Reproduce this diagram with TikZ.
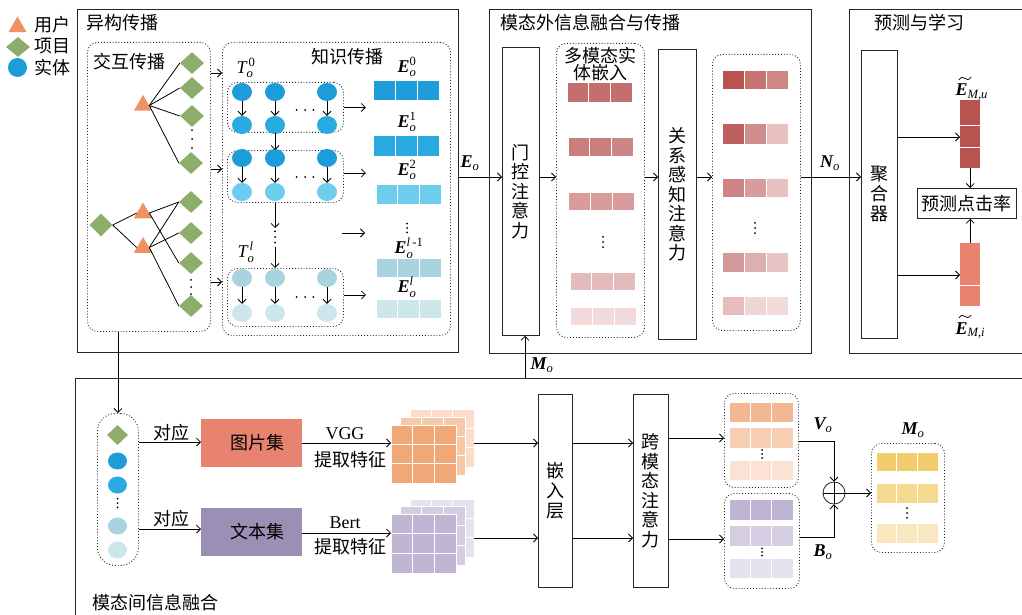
\documentclass[tikz,border=0pt]{standalone}
\usepackage{amsmath}
\usepackage{fontspec}
\setmainfont{Liberation Serif}
\newfontfamily\cjk{Noto Sans CJK SC}
\usetikzlibrary{shapes.geometric,arrows.meta,calc}

\definecolor{b0}{HTML}{1C9DD9}
\definecolor{b1}{HTML}{29ABE2}
\definecolor{b2}{HTML}{6CCDEF}
\definecolor{b3}{HTML}{A8D3DF}
\definecolor{b4}{HTML}{CDE6EC}
\definecolor{grn}{HTML}{8DAE6A}
\definecolor{org}{HTML}{F09161}
\definecolor{euc}{HTML}{B85450}
\definecolor{eic}{HTML}{E8836F}
\definecolor{imgc}{HTML}{E8836F}
\definecolor{txtc}{HTML}{9B8FB5}

\newcommand{\bE}{\text{\rmfamily\bfseries\itshape E}}
\newcommand{\bM}{\text{\rmfamily\bfseries\itshape M}}
\newcommand{\bN}{\text{\rmfamily\bfseries\itshape N}}
\newcommand{\bV}{\text{\rmfamily\bfseries\itshape V}}
\newcommand{\bB}{\text{\rmfamily\bfseries\itshape B}}
\newcommand{\tx}[1]{\text{\rmfamily\itshape #1}}
\newcommand{\tu}[1]{\text{\rmfamily #1}}

\newcommand{\rowbar}[8]{%
  \definecolor{rbA}{HTML}{#6}\definecolor{rbB}{HTML}{#7}\definecolor{rbC}{HTML}{#8}%
  \node[cellb, fill=rbA, minimum width={(#4-#2)/3}, minimum height={#5-#3}, anchor=north west] (#1-1) at (#2,#3) {};
  \node[cellb, fill=rbB, minimum width={(#4-#2)/3}, minimum height={#5-#3}, anchor=north west] (#1-2) at ({#2+(#4-#2)/3},#3) {};
  \node[cellb, fill=rbC, minimum width={(#4-#2)/3}, minimum height={#5-#3}, anchor=north west] (#1-3) at ({#2+2*(#4-#2)/3},#3) {};
}
\newcommand{\gridnode}[6]{%
  \definecolor{gdA}{HTML}{#6}%
  \node[cellb, fill=gdA, minimum width={#4-#2}, minimum height={#5-#3}, anchor=north west] (#1) at (#2,#3) {};
  \draw[white, line width=1pt] ($(#1.north west)!1/3!(#1.north east)$) -- ($(#1.south west)!1/3!(#1.south east)$);
  \draw[white, line width=1pt] ($(#1.north west)!2/3!(#1.north east)$) -- ($(#1.south west)!2/3!(#1.south east)$);
  \draw[white, line width=1pt] ($(#1.north west)!1/3!(#1.south west)$) -- ($(#1.north east)!1/3!(#1.south east)$);
  \draw[white, line width=1pt] ($(#1.north west)!2/3!(#1.south west)$) -- ($(#1.north east)!2/3!(#1.south east)$);
}

\tikzset{
  box/.style={draw=black!85, line width=0.8pt, inner sep=0pt, anchor=north west},
  dbox/.style={draw=black!85, dotted, line width=0.9pt, rounded corners=10pt, inner sep=0pt, anchor=north west},
  arr/.style={-{Straight Barb[length=4pt,width=8pt]}, line width=0.8pt},
  ln/.style={line width=0.8pt},
  tld/.style={line width=0.75pt},
  cellb/.style={draw=white, line width=1pt, inner sep=0pt, outer sep=0pt, rectangle},
  ent/.style={ellipse, minimum width=20pt, minimum height=18pt, inner sep=0pt},
  dia/.style={diamond, fill=grn, minimum width=24pt, minimum height=22pt, inner sep=0pt},
  tri/.style={regular polygon, regular polygon sides=3, fill=org, minimum size=21pt, inner sep=0pt},
  vtext/.style={align=center, font=\cjk\fontsize{18}{19.5}\selectfont},
  lat/.style={font=\rmfamily\fontsize{18}{20}\selectfont},
  vdt/.style={rectangle, inner sep=0pt, outer sep=0pt, minimum width=4pt, minimum height=#1,
    path picture={\foreach \f in {0.1,0.5,0.9}
      \fill ($(path picture bounding box.north)!\f!(path picture bounding box.south)$) circle[radius=1pt];}},
  vdt/.default=18pt,
  hdt/.style={rectangle, inner sep=0pt, outer sep=0pt, minimum height=4pt, minimum width=#1,
    path picture={\foreach \f in {0.08,0.5,0.92}
      \fill ($(path picture bounding box.west)!\f!(path picture bounding box.east)$) circle[radius=1pt];}},
  hdt/.default=20pt
}

\begin{document}
\begin{tikzpicture}[x=1pt,y=-1pt, font=\cjk\fontsize{18}{20}\selectfont]
\useasboundingbox (0,0) rectangle (1022,615);
\fill[white] (0,0) rectangle (1022,615);

% ---------- legend ----------
\node[tri] (lgT) at (17.5,27) {};
\node[anchor=west] (lgTt) at (31,25) {用户};
\node[dia, minimum width=24pt, minimum height=20pt] (lgD) at (18,47) {};
\node[anchor=west] (lgDt) at (31,46) {项目};
\node[ent, fill=b0, minimum width=19pt, minimum height=19pt] (lgC) at (17.5,67.5) {};
\node[anchor=west] (lgCt) at (31,68) {实体};

% ---------- outer boxes ----------
\node[box, minimum width=381pt, minimum height=343pt] (het) at (77,9) {};
\node[anchor=west] (hetT) at (83,23) {异构传播};
\node[box, minimum width=322pt, minimum height=344pt] (mid) at (489,9) {};
\node[anchor=west] (midT) at (497,23) {模态外信息融合与传播};
\node[box, minimum width=180pt, minimum height=344pt] (prd) at (849,9) {};
\node[anchor=west] (prdT) at (871,23) {预测与学习};
\node[box, minimum width=955pt, minimum height=245pt] (bot) at (75,378) {};
\node[anchor=west] (botT) at (89,603) {模态间信息融合};

% ---------- interaction propagation ----------
\node[dbox, minimum width=123pt, minimum height=289pt] (ia) at (87,42) {};
\node[anchor=west] (iaT) at (90,62) {交互传播};
\node[dia] (d1) at (192,63) {};
\node[dia] (d2) at (192,88) {};
\node[dia] (d3) at (192,116) {};
\node[vdt=22pt] (dd1) at (192,139) {};
\node[dia] (d4) at (191,163) {};
\node[dia] (d5) at (191,202) {};
\node[dia] (d6) at (191,233) {};
\node[dia] (d7) at (191,263) {};
\node[vdt=18pt] (dd2) at (191,287) {};
\node[dia] (d8) at (191,306) {};
\node[dia, minimum width=23pt, minimum height=23pt] (d0) at (101,225) {};
\node[tri] (t1) at (143,105.5) {};
\node[tri] (t2) at (143,213) {};
\node[tri] (t3) at (143,247.5) {};
\foreach \d in {d1,d2,d3,d4} \draw[ln] (t1.east) -- (\d.west);
\draw[ln] (d0.east) -- (t2.west);
\draw[ln] (d0.east) -- (t3.west);
\draw[ln] (t2.east) -- (d5.west);
\draw[ln] (t2.east) -- (d7.west);
\draw[ln] (t3.east) -- (d5.west);
\draw[ln] (t3.east) -- (d6.west);
\draw[ln] (t3.east) -- (d8.west);

% ---------- knowledge propagation ----------
\node[dbox, minimum width=228pt, minimum height=293pt] (ka) at (222,42) {};
\node (kaT) at (347,57) {知识传播};
\coordinate (ya1) at (0,73);
\coordinate (ya2) at (0,169);
\coordinate (ya3) at (0,282);
\foreach \c in {ya1,ya2,ya3} \draw[arr] (ia.east |- \c) -- (ka.west |- \c);

\node[dbox, minimum width=116pt, minimum height=50pt] (k1) at (227,82) {};
\node[dbox, minimum width=116pt, minimum height=52pt] (k2) at (227,150) {};
\node[dbox, minimum width=116pt, minimum height=58pt] (k3) at (227,268) {};
\node[lat] (T0) at (246,68) {$\tx{T}_{\tx{o}}^{\,\tu{0}}$};
\node[lat] (Tl) at (246,252) {$\tx{T}_{\tx{o}}^{\,\tx{l}}$};
\foreach \i/\x in {1/242,2/275,3/327} {
  \node[ent, fill=b0] (pa\i) at (\x,92) {};
  \node[ent, fill=b1] (pb\i) at (\x,125) {};
  \draw[arr] (pa\i) -- (pb\i);
  \node[ent, fill=b0] (qa\i) at (\x,158) {};
  \node[ent, fill=b2] (qb\i) at (\x,192) {};
  \draw[arr] (qa\i) -- (qb\i);
  \node[ent, fill=b3] (ra\i) at (\x,278) {};
  \node[ent, fill=b4] (rb\i) at (\x,313) {};
  \draw[arr] (ra\i) -- (rb\i);
}
\node[hdt] (h1) at (305,110) {};
\node[hdt] (h2) at (305,177) {};
\node[hdt] (h3) at (305,297) {};
\draw[arr] (k1.south -| pa2) -- (k2.north -| pa2);
\node[vdt=14pt] (kv) at (275,237) {};
\draw[arr] (k2.south -| pa2) -- ([yshift=2pt]kv.north);
\draw[arr] ([yshift=-3pt]kv.south) -- (k3.north -| pa2);

\draw[arr] (k1.east) -- ++(22,0) coordinate (k1e);
\draw[arr] (k2.east |- 0,173) -- ++(22,0) coordinate (k2e);
\coordinate (kmA) at (342,233);
\coordinate (kmB) at (365,233);
\draw[arr] (kmA) -- (kmB);
\draw[arr] (k3.east |- 0,295) -- ++(22,0) coordinate (k3e);

\rowbar{e0}{373}{81}{439}{101}{1C9DD9}{1C9DD9}{1C9DD9}
\rowbar{e1}{373}{136}{439}{156}{29ABE2}{29ABE2}{29ABE2}
\rowbar{e2}{376}{184}{441}{204}{6CCDEF}{6CCDEF}{6CCDEF}
\rowbar{e3}{376}{258}{441}{277}{A8D3DF}{A8D3DF}{A8D3DF}
\rowbar{e4}{376}{299}{441}{318}{CDE6EC}{CDE6EC}{CDE6EC}
\node[lat] (le0) at (407,67) {$\bE_{\tx{o}}^{\tu{0}}$};
\node[lat] (le1) at (407,122) {$\bE_{\tx{o}}^{\tu{1}}$};
\node[lat] (le2) at (407,170) {$\bE_{\tx{o}}^{\tu{2}}$};
\node[vdt=11pt] (lev) at (407,228) {};
\node[lat] (le3) at (409,248) {$\bE_{\tx{o}}^{\tu{\textit{l}\,-1}}$};
\node[lat] (le4) at (407,287) {$\bE_{\tx{o}}^{\tx{l}}$};

% ---------- outer-modal fusion ----------
\coordinate (yE) at (0,177);
\node[box, minimum width=37pt, minimum height=288pt] (gate) at (502,47) {};
\node[vtext] (gateT) at (gate.center) {门\\控\\注\\意\\力};
\node[dbox, minimum width=88pt, minimum height=294pt] (mm) at (556,43) {};
\node[align=center, font=\cjk\fontsize{18}{17}\selectfont] (mmT) at (600,64) {多模态实\\体嵌入};
\node[box, minimum width=38pt, minimum height=290pt] (rel) at (658,49) {};
\node[vtext] (relT) at (rel.center) {关\\系\\感\\知\\注\\意\\力};
\node[dbox, minimum width=88pt, minimum height=276pt] (out) at (712,54) {};

\draw[arr] (het.east |- yE) -- (gate.west |- yE);
\node[lat] (lEo) at (470,163) {$\bE_{\tx{o}}$};
\draw[arr] (gate.east |- yE) -- (mm.west |- yE);
\draw[arr] (mm.east |- yE) -- (rel.west |- yE);
\draw[arr] (rel.east |- yE) -- (out.west |- yE);

\rowbar{m1}{567}{83}{632}{103}{C46F6D}{C46F6D}{C46F6D}
\rowbar{m2}{568}{137}{633}{156}{CB7E7E}{CB7E7E}{CD8585}
\rowbar{m3}{568}{192}{634}{210}{D89C9C}{D89C9C}{D89C9C}
\node[vdt=13pt] (mv) at (603,242) {};
\rowbar{m4}{570}{272}{635}{290}{E5BABA}{E5BABA}{E5BABA}
\rowbar{m5}{570}{307}{636}{325}{F2DADA}{F2DADA}{F2DADA}

\rowbar{o1}{722}{71}{788}{90}{B85450}{C77470}{CC8887}
\rowbar{o2}{722}{124}{788}{144}{BD605F}{D08D8D}{E9C1C1}
\rowbar{o3}{722}{178}{788}{197}{CF8585}{D79D9D}{E8C1C1}
\node[vdt=13pt] (ov) at (755,228) {};
\rowbar{o4}{722}{252}{788}{272}{D49999}{DDB0B0}{E8C5C5}
\rowbar{o5}{722}{296}{788}{315}{E6BCBC}{EED6D6}{F0DADA}

% ---------- prediction ----------
\node[box, minimum width=36pt, minimum height=288pt] (agg) at (861,50) {};
\node[vtext, font=\cjk\fontsize{18}{20}\selectfont] (aggT) at (agg.center) {聚\\合\\器};
\draw[arr] (out.east |- yE) -- (agg.west |- yE);
\node[lat] (lNo) at (830,163) {$\bN_{\tx{o}}$};

\node[draw=none, fill=euc, minimum width=20pt, minimum height=68pt, inner sep=0pt, anchor=north west] (eu) at (960,100) {};
\draw[white, line width=1pt] (eu.west |- 0,126) -- (eu.east |- 0,126);
\draw[white, line width=1pt] (eu.west |- 0,147) -- (eu.east |- 0,147);
\node[draw=none, fill=eic, minimum width=20pt, minimum height=63pt, inner sep=0pt, anchor=north west] (ei) at (960,243) {};
\draw[white, line width=1pt] (ei.west |- 0,285) -- (ei.east |- 0,285);
\node[box, minimum width=99pt, minimum height=30pt] (pbx) at (917,188) {};
\node (pbxT) at (pbx.center) {预测点击率};
\draw[arr] (agg.east |- 0,137) -- (eu.west |- 0,137);
\draw[arr] (agg.east |- 0,275) -- (ei.west |- 0,275);
\draw[arr] (eu.south) -- (pbx.north -| eu.south);
\draw[arr] (ei.north) -- (pbx.south -| ei.north);
\node[lat, anchor=base west] (lEu) at (952,96) {$\bE_{\tx{M,u}}$};
\draw[tld] (959,80) .. controls (961,76.5) and (963.5,77) .. (965,78.5) .. controls (966.5,80) and (969,80.5) .. (971,77);
\node[lat, anchor=base west] (lEi) at (952,334) {$\bE_{\tx{M,i}}$};
\draw[tld] (959,318) .. controls (961,314.5) and (963.5,315) .. (965,316.5) .. controls (966.5,318) and (969,318.5) .. (971,315);

% ---------- inter-modal fusion ----------
\coordinate (xM) at (525,0);
\draw[arr] (bot.north -| xM) -- (gate.south -| xM);
\node[lat] (lMo1) at (542,365) {$\bM_{\tx{o}}$};

\node[dbox, rounded corners=18pt, minimum width=41pt, minimum height=152pt] (pill) at (97,413) {};
\draw[arr] (ia.south -| pill.north) -- (pill.north);
\node[dia, minimum width=21pt, minimum height=20pt] (pd) at (117.5,435) {};
\node[ent, fill=b0, minimum width=19pt, minimum height=17pt] (pc1) at (117.5,461) {};
\node[ent, fill=b1, minimum width=19pt, minimum height=17pt] (pc2) at (117.5,485) {};
\node[vdt=11pt] (pv) at (117.5,503) {};
\node[ent, fill=b3, minimum width=19pt, minimum height=17pt] (pc3) at (117.5,526) {};
\node[ent, fill=b4, minimum width=19pt, minimum height=17pt] (pc4) at (117.5,550) {};

\node[fill=imgc, minimum width=101pt, minimum height=48pt, inner sep=0pt, anchor=north west] (img) at (201,419) {};
\node (imgT) at (257,443) {图片集};
\node[fill=txtc, minimum width=101pt, minimum height=48pt, inner sep=0pt, anchor=north west] (txt) at (201,508) {};
\node (txtT) at (257,532) {文本集};
\draw[arr] (pill.east |- 0,442) -- (img.west |- 0,442);
\node (dy1) at (171,433) {对应};
\draw[arr] (pill.east |- 0,529) -- (txt.west |- 0,529);
\node (dy2) at (171,519) {对应};

\gridnode{ig3}{410}{409}{474}{467}{FBDCC9}
\gridnode{ig2}{400}{417}{465}{475}{F6C9A9}
\gridnode{ig1}{391}{425}{456}{483}{F0A878}
\gridnode{tg3}{410}{499}{474}{557}{E6E1EE}
\gridnode{tg2}{400}{506}{465}{565}{D4CDE2}
\gridnode{tg1}{391}{514}{456}{573}{C0B6D3}

\draw[arr] (img.east |- 0,443) -- (ig1.west |- 0,443);
\node[lat] (vgg) at (345,434) {VGG};
\node (tq1) at (350,460) {提取特征};
\draw[arr] (txt.east |- 0,533) -- (tg1.west |- 0,533);
\node[lat] (bert) at (345,523) {Bert};
\node (tq2) at (350,547) {提取特征};

\node[box, minimum width=34pt, minimum height=193pt] (emb) at (538,394) {};
\node[vtext, font=\cjk\fontsize{18}{20}\selectfont] (embT) at (emb.center) {嵌\\入\\层};
\node[box, minimum width=35pt, minimum height=193pt] (crs) at (633,394) {};
\node[vtext] (crsT) at (crs.center) {跨\\模\\态\\注\\意\\力};
\draw[arr] (ig3.east |- 0,443) -- (emb.west |- 0,443);
\draw[arr] (tg3.east |- 0,538) -- (emb.west |- 0,538);
\draw[arr] (emb.east |- 0,443) -- (crs.west |- 0,443);
\draw[arr] (emb.east |- 0,538) -- (crs.west |- 0,538);

\node[dbox, minimum width=74pt, minimum height=94pt] (vb) at (724,393) {};
\node[dbox, minimum width=75pt, minimum height=95pt] (bb) at (724,493) {};
\draw[arr] (crs.east |- 0,438) -- (vb.west |- 0,438);
\draw[arr] (crs.east |- 0,539) -- (bb.west |- 0,539);
\rowbar{v1}{729}{402}{793}{422}{F2B894}{F2B894}{F2B894}
\rowbar{v2}{729}{427}{793}{448}{F7CFB5}{F7CFB5}{F7CFB5}
\node[vdt=10pt] (vv) at (762,454) {};
\rowbar{v3}{729}{460}{793}{480}{FBE2D4}{FBE2D4}{FBE2D4}
\rowbar{w1}{729}{499}{793}{520}{BFB5D2}{BFB5D2}{BFB5D2}
\rowbar{w2}{729}{525}{793}{546}{D5CEE3}{D5CEE3}{D5CEE3}
\node[vdt=9pt] (wv) at (762,552) {};
\rowbar{w3}{729}{558}{793}{578}{E6E1EE}{E6E1EE}{E6E1EE}

\node[circle, draw=black!85, line width=0.8pt, minimum size=22pt, inner sep=0pt] (op) at (834,493) {};
\draw[ln] (op.north) -- (op.south);
\draw[ln] (op.west) -- (op.east);
\draw[arr] (vb.east |- 0,441) -| (op.north);
\draw[arr] (bb.east |- 0,537) -| (op.south);
\node[lat] (lVo) at (823,425) {$\bV_{\tx{o}}$};
\node[lat] (lBo) at (823,552) {$\bB_{\tx{o}}$};

\node[dbox, minimum width=73pt, minimum height=109pt] (mb) at (871,443) {};
\draw[arr] (op.east) -- (mb.west |- op.east);
\node[lat] (lMo2) at (913,430) {$\bM_{\tx{o}}$};
\rowbar{n1}{876}{452}{938}{471}{F2CB6D}{F2CB6D}{F2CB6D}
\rowbar{n2}{876}{483}{938}{503}{F5D990}{F5D990}{F5D990}
\node[vdt=12pt] (nv) at (907,513) {};
\rowbar{n3}{876}{523}{938}{543}{F8E7BF}{F8E7BF}{F8E7BF}
\end{tikzpicture}
\end{document}
